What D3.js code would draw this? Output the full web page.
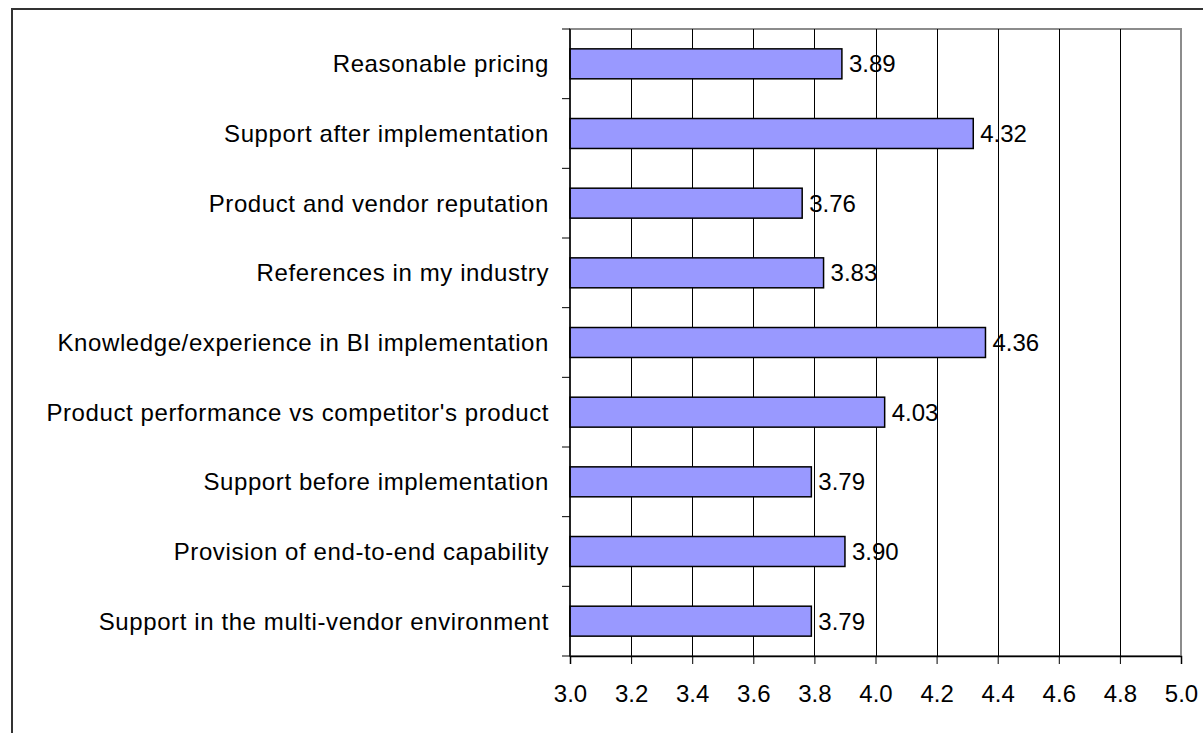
<!DOCTYPE html>
<html>
<head>
<meta charset="utf-8">
<title>Vendor selection factors</title>
<script src="https://d3js.org/d3.v7.min.js"></script>
<style>
	body { margin: 0; padding: 0; background: #fff; }
	svg { display: block; font-family: "Liberation Sans", Arial, sans-serif; }
	.grid line { stroke: #000; stroke-width: 1; }
	.bar { fill: #9999ff; stroke: #000; stroke-width: 1.5; }
	.lbl { font-size: 24px; fill: #000; }
	.cat { letter-spacing: 0.6px; }
</style>
</head>
<body>
<div id="graph"></div>
<script>
// data, top to bottom as shown
var categories = [
	"Reasonable pricing",
	"Support after implementation",
	"Product and vendor reputation",
	"References in my industry",
	"Knowledge/experience in BI implementation",
	"Product performance vs competitor's product",
	"Support before implementation",
	"Provision of end-to-end capability",
	"Support in the multi-vendor environment"
];
var scores = [3.89, 4.32, 3.76, 3.83, 4.36, 4.03, 3.79, 3.90, 3.79];
var xTicks = [3.0, 3.2, 3.4, 3.6, 3.8, 4.0, 4.2, 4.4, 4.6, 4.8, 5.0];

var W = 1203, H = 733;
var plot = { left: 570, right: 1181, top: 29, bottom: 656 };

var svg = d3.select("#graph").append("svg")
	.attr("width", W)
	.attr("height", H);

// outer chart border (runs off the right/bottom edge)
svg.append("rect")
	.attr("x", 12).attr("y", 9)
	.attr("width", 1200).attr("height", 740)
	.attr("fill", "#fff")
	.attr("stroke", "#333")
	.attr("stroke-width", 2);

var x = d3.scaleLinear().domain([3.0, 5.0]).range([plot.left, plot.right]);
var y = d3.scaleBand().domain(categories).range([plot.top, plot.bottom]).paddingInner(0.57).paddingOuter(0.285);
var yb = d3.scaleBand().domain(categories).range([plot.top, plot.bottom]);

// plot area frame (grey top/right)
svg.append("rect")
	.attr("x", plot.left).attr("y", plot.top)
	.attr("width", plot.right - plot.left).attr("height", plot.bottom - plot.top)
	.attr("fill", "none")
	.attr("stroke", "#8c8c8c")
	.attr("stroke-width", 2);

// vertical gridlines
svg.append("g").attr("class", "grid")
	.selectAll("line")
	.data(xTicks.slice(1, -1))
	.enter().append("line")
	.attr("x1", function (d) { return Math.round(x(d)) + 0.5; })
	.attr("x2", function (d) { return Math.round(x(d)) + 0.5; })
	.attr("y1", plot.top)
	.attr("y2", plot.bottom);

// bars
svg.selectAll(".bar")
	.data(scores)
	.enter().append("rect")
	.attr("class", "bar")
	.attr("x", x(3.0))
	.attr("y", function (d, i) { return y(categories[i]); })
	.attr("width", function (d) { return x(d) - x(3.0); })
	.attr("height", y.bandwidth());

// value labels
svg.selectAll(".val")
	.data(scores)
	.enter().append("text")
	.attr("class", "lbl val")
	.attr("x", function (d) { return x(d) + 7; })
	.attr("y", function (d, i) { return y(categories[i]) + y.bandwidth() / 2; })
	.attr("dy", "0.36em")
	.text(function (d) { return d.toFixed(2); });

// x axis
var xAxis = svg.append("g")
	.attr("transform", "translate(0," + plot.bottom + ")")
	.call(d3.axisBottom(x).tickValues(xTicks).tickFormat(d3.format(".1f")).tickSizeOuter(0).tickSize(8).tickPadding(21));
xAxis.select(".domain").attr("stroke", "#000").attr("stroke-width", 1.5);
xAxis.selectAll(".tick line").attr("stroke", "#000");
xAxis.selectAll("text").attr("class", "lbl").attr("font-family", null).attr("font-size", null);
xAxis.attr("font-family", null).attr("font-size", null);

// y axis: ticks sit on the category boundaries
var yAxis = svg.append("g")
	.attr("transform", "translate(" + plot.left + ",0)");
yAxis.append("line")
	.attr("x1", 0).attr("x2", 0)
	.attr("y1", plot.top).attr("y2", plot.bottom)
	.attr("stroke", "#000").attr("stroke-width", 1.5);
yAxis.selectAll(".ytick")
	.data(categories.concat([null]))
	.enter().append("line")
	.attr("x1", -8).attr("x2", 0)
	.attr("y1", function (d, i) { return plot.top + i * yb.step(); })
	.attr("y2", function (d, i) { return plot.top + i * yb.step(); })
	.attr("stroke", "#000");
yAxis.selectAll(".cat")
	.data(categories)
	.enter().append("text")
	.attr("class", "lbl cat")
	.attr("x", -21)
	.attr("y", function (d) { return yb(d) + yb.bandwidth() / 2; })
	.attr("dy", "0.36em")
	.attr("text-anchor", "end")
	.text(function (d) { return d; });
</script>
</body>
</html>
